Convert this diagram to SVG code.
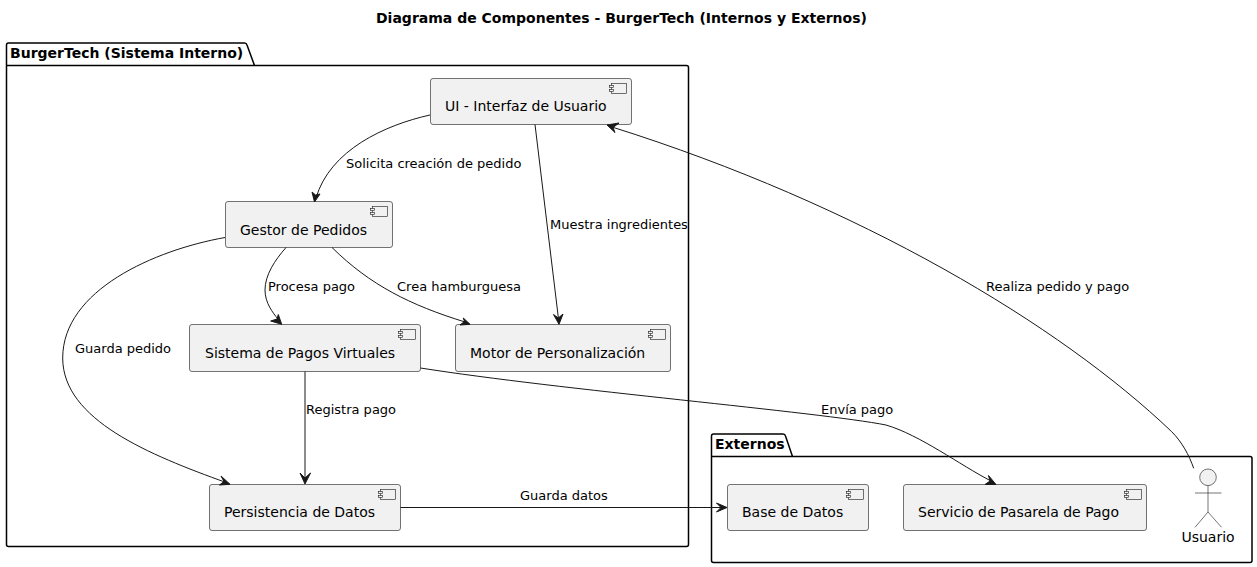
<svg xmlns="http://www.w3.org/2000/svg" width="1257" height="567" viewBox="0 0 1257 567">
<style>
text{font-family:"DejaVu Sans",sans-serif;fill:#000}
.title{font-size:14px;font-weight:bold}
.pkg{fill:none;stroke:#000;stroke-width:1.5}
.pl{font-size:14px;font-weight:bold}
.box{fill:#f1f1f1;stroke:#181818;stroke-width:.6}
.ic{fill:#f1f1f1;stroke:#181818;stroke-width:.6}
.n{font-size:14px}
.e{font-size:13px}
.c{fill:none;stroke:#181818;stroke-width:1}
.a{fill:#181818;stroke:#181818;stroke-width:1}
.act{fill:none;stroke:#181818;stroke-width:.6}
</style>
<defs>
<g id="ci"><rect class="ic" x="-15" y="0" width="15" height="10"/><rect class="ic" x="-17" y="2" width="4" height="2"/><rect class="ic" x="-17" y="6" width="4" height="2"/></g>
</defs>
<text class="title" x="376" y="23">Diagrama de Componentes - BurgerTech (Internos y Externos)</text>
<g id="pkg-burgertech"><path class="pkg" d="M8.500 43H244.500Q246.500 43 247 45L254.500 65.500H686.500Q688.500 65.500 688.500 67.500V544.500Q688.500 546.500 686.500 546.500H8.500Q6.500 546.500 6.500 544.500V45Q6.500 43 8.500 43ZM6.500 65.500H254.500"/><text class="pl" x="10" y="58">BurgerTech (Sistema Interno)</text></g>
<g id="pkg-externos"><path class="pkg" d="M713.500 434H783Q785 434 785.500 436L792.500 456.500H1250Q1252 456.500 1252 458.500V560.500Q1252 562.500 1250 562.500H713.500Q711.500 562.500 711.500 560.500V436Q711.500 434 713.500 434ZM711.500 456.500H792.500"/><text class="pl" x="715" y="449">Externos</text></g>
<g id="n-ui"><rect class="box" x="430.500" y="78.500" width="201" height="46" rx="2.500"/><use href="#ci" x="626.500" y="83.500"/><text class="n" x="445" y="111">UI - Interfaz de Usuario</text></g>
<g id="n-gestor"><rect class="box" x="225.500" y="201.500" width="167" height="46" rx="2.500"/><use href="#ci" x="387.500" y="206.500"/><text class="n" x="240" y="235">Gestor de Pedidos</text></g>
<g id="n-sistema"><rect class="box" x="189.500" y="324.500" width="231" height="47" rx="2.500"/><use href="#ci" x="415.500" y="329.500"/><text class="n" x="205" y="358">Sistema de Pagos Virtuales</text></g>
<g id="n-motor"><rect class="box" x="455.500" y="324.500" width="215" height="47" rx="2.500"/><use href="#ci" x="665.500" y="329.500"/><text class="n" x="470" y="358">Motor de Personalización</text></g>
<g id="n-persistencia"><rect class="box" x="209.500" y="484.500" width="191" height="46" rx="2.500"/><use href="#ci" x="395.500" y="489.500"/><text class="n" x="224" y="517">Persistencia de Datos</text></g>
<g id="n-base"><rect class="box" x="727.500" y="484.500" width="141" height="46" rx="2.500"/><use href="#ci" x="863.500" y="489.500"/><text class="n" x="742" y="517">Base de Datos</text></g>
<g id="n-pasarela"><rect class="box" x="903.500" y="484.500" width="243" height="46" rx="2.500"/><use href="#ci" x="1141.500" y="489.500"/><text class="n" x="918" y="517">Servicio de Pasarela de Pago</text></g>
<g id="n-usuario"><circle cx="1208" cy="477.300" r="8.300" fill="#f1f1f1" stroke="#181818" stroke-width=".6"/><path class="act" d="M1208 485.600V512M1195 493H1221.500M1208 512L1195 527.300M1208 512L1221.500 527.300"/><text class="n" x="1208" y="542" text-anchor="middle">Usuario</text></g>
<g id="connectors">
<path class="c" d="M430 115C385 125 330 150 316 198"/><path class="a" d="M314.500 202L312 192L315.500 195L320 194Z"/>
<path class="c" d="M535 124.500L558.500 319"/><path class="a" d="M559 324.300L553.500 314.500L558.300 318L563 314Z"/>
<path class="c" d="M1193.700 468.300C1189 455 1182 442 1171.700 431.700C1060 325 860 205 612 127"/><path class="a" d="M607 125L619 123L613 127.500L615 132.500Z"/>
<path class="c" d="M225 237.500C155 250 62.700 290 62.700 358C62.700 420 150 455 226 482.500"/><path class="a" d="M230 484.300L219.500 485L224 481.500L221 476Z"/>
<path class="c" d="M286 247.500C275 260 265 275 265 290C265 303 273 313 278 319"/><path class="a" d="M281.700 324.300L270.700 321L277 319L278.300 314.500Z"/>
<path class="c" d="M332 247.500C370 285 410 305 465 322"/><path class="a" d="M470 324.300L460 325L464.500 321.500L463.300 318Z"/>
<path class="c" d="M305 371.500V478"/><path class="a" d="M305 484L300 473L305 478L310.500 473Z"/>
<path class="c" d="M420.500 368C560 390 820 412 886 425C920 435 960 465 991 481"/><path class="a" d="M996 484.500L985 484.500L990 481L988.500 475.500Z"/>
<path class="c" d="M400.500 507.500H721"/><path class="a" d="M727 507.500L716.500 503L721 507.500L716.500 512Z"/>
</g>
<g id="edge-labels">
<text class="e" x="346" y="168">Solicita creación de pedido</text>
<text class="e" x="550" y="229">Muestra ingredientes</text>
<text class="e" x="986" y="291">Realiza pedido y pago</text>
<text class="e" x="75" y="353">Guarda pedido</text>
<text class="e" x="268" y="291">Procesa pago</text>
<text class="e" x="397" y="291">Crea hamburguesa</text>
<text class="e" x="306" y="414">Registra pago</text>
<text class="e" x="821" y="414">Envía pago</text>
<text class="e" x="520" y="500">Guarda datos</text>
</g>
</svg>
